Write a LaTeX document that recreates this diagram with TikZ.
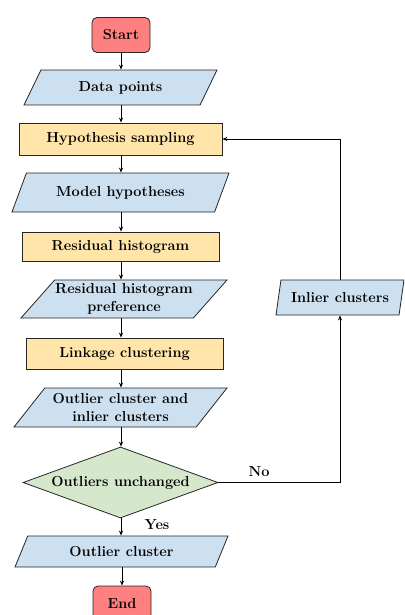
\documentclass[tikz,border=0pt]{standalone}
\usetikzlibrary{shapes.geometric,arrows.meta}
\definecolor{termfill}{RGB}{255,128,128}
\definecolor{iofill}{RGB}{204,224,240}
\definecolor{procfill}{RGB}{255,229,170}
\definecolor{decfill}{RGB}{213,232,204}
\tikzset{
  txt/.style={font=\fontsize{14.5}{18.5}\selectfont\bfseries},
  base/.style={txt, draw=black!85, line width=0.8pt, align=center, inner sep=0pt},
  term/.style={base, rectangle, rounded corners=5pt, fill=termfill, minimum width=58pt, minimum height=35pt},
  proc/.style={base, rectangle, fill=procfill},
  io/.style={base, trapezium, trapezium stretches body, fill=iofill,
             trapezium left angle=#1, trapezium right angle=180-#1},
  dec/.style={base, diamond, aspect=2.75, fill=decfill, minimum width=195pt, minimum height=71pt},
  flow/.style={line width=0.8pt, -{Stealth[length=5pt,width=4pt]}},
  lab/.style={txt, inner sep=0pt}
}
\begin{document}
\begin{tikzpicture}[x=1pt, y=-1pt]
  \useasboundingbox (0,0) rectangle (404,615);
  \clip (0,0) rectangle (404,615);

  % main column
  \node[term] (start) at (121,35) {Start};
  \node[io=37, minimum width=193pt, minimum height=35pt] (data) at (120.5,87.5) {Data points};
  \node[proc, minimum width=203pt, minimum height=32pt] (hyp) at (120.5,139) {Hypothesis sampling};
  \node[io=42, minimum width=217pt, minimum height=39pt] (model) at (120.5,192.5) {Model hypotheses};
  \node[proc, minimum width=197pt, minimum height=29pt] (resid) at (120.5,246.5) {Residual histogram};
  \node[io=43, minimum width=206pt, minimum height=38pt] (pref) at (124,299) {Residual histogram\\preference};
  \node[proc, minimum width=197pt, minimum height=31pt] (link) at (124.5,353.5) {Linkage clustering};
  \node[io=43, minimum width=213pt, minimum height=39pt] (outl) at (120.5,407.5) {Outlier cluster and\\inlier clusters};
  \node[dec] (check) at (120.5,482.5) {Outliers unchanged};
  \node[io=39, minimum width=213pt, minimum height=31pt] (outc) at (121.5,551.5) {Outlier cluster};
  \node[term] (end) at (122,603.5) {End};

  % feedback branch
  \node[io=64, minimum width=128pt, minimum height=35pt] (inl) at (340,297.5) {Inlier clusters};

  % connectors
  \draw[flow] (start.south) -- (start.south |- data.north);
  \draw[flow] (data.south -| start.south) -- (start.south |- hyp.north);
  \draw[flow] (hyp.south -| start.south) -- (start.south |- model.north);
  \draw[flow] (model.south -| start.south) -- (start.south |- resid.north);
  \draw[flow] (resid.south -| start.south) -- (start.south |- pref.north);
  \draw[flow] (pref.south -| start.south) -- (start.south |- link.north);
  \draw[flow] (link.south -| start.south) -- (start.south |- outl.north);
  \draw[flow] (outl.south -| start.south) -- (start.south |- check.north);
  \draw[flow] (check.south -| start.south) -- (start.south |- outc.north);
  \draw[flow] (outc.south -| end.north) -- (end.north);
  \draw[flow] (check.east) -| (inl.south);
  \draw[flow] (inl.north) |- (hyp.east);

  % branch labels
  \node[lab] (no) at (259,472) {No};
  \node[lab] (yes) at (157,525) {Yes};
\end{tikzpicture}
\end{document}
